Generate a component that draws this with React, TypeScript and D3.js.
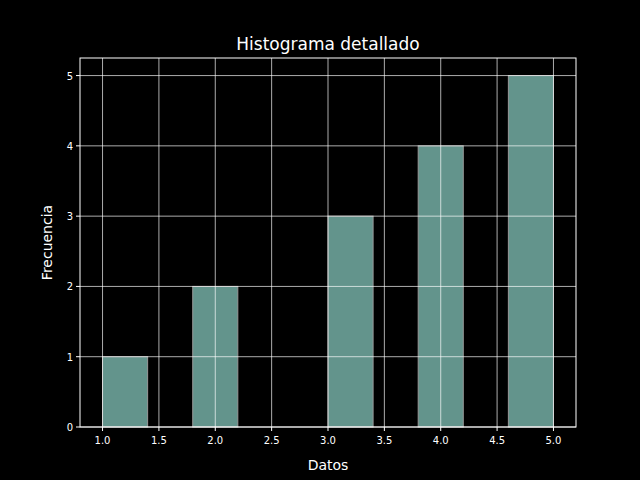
import * as d3 from 'd3';

const binStarts = [1.0, 1.4, 1.8, 2.2, 2.6, 3.0, 3.4, 3.8, 4.2, 4.6];
const binCounts = [1, 0, 2, 0, 0, 3, 0, 4, 0, 5];
const binWidth = 0.4;
const xTicks = [1.0, 1.5, 2.0, 2.5, 3.0, 3.5, 4.0, 4.5, 5.0];
const yTicks = [0, 1, 2, 3, 4, 5];

export default function App() {
  const W = 640, H = 480;
  const left = 80, right = 576, top = 58, bottom = 427;
  const x = d3.scaleLinear().domain([0.8, 5.2]).range([left, right]);
  const y = d3.scaleLinear().domain([0, 5.25]).range([bottom, top]);
  const font = 'DejaVu Sans, sans-serif';
  return (
    <svg width={W} height={H} style={{ position: 'absolute', left: 0, top: 0, background: '#000' }} fontFamily={font}>
      <rect width={W} height={H} fill="#000" />
      {binStarts.map((s, i) => binCounts[i] > 0 && (
        <rect key={i} x={x(s)} y={y(binCounts[i])} width={x(s + binWidth) - x(s)} height={y(0) - y(binCounts[i])}
          fill="#8dd3c7" fillOpacity={0.7} stroke="#999" strokeWidth={1} />
      ))}
      {xTicks.map(t => <line key={'gx' + t} x1={x(t)} x2={x(t)} y1={top} y2={bottom} stroke="#fff" strokeOpacity={0.85} strokeWidth={0.8} />)}
      {yTicks.map(t => <line key={'gy' + t} x1={left} x2={right} y1={y(t)} y2={y(t)} stroke="#fff" strokeOpacity={0.85} strokeWidth={0.8} />)}
      <rect x={left} y={top} width={right - left} height={bottom - top} fill="none" stroke="#fff" strokeWidth={1} />
      {xTicks.map(t => (
        <g key={'tx' + t}>
          <line x1={x(t)} x2={x(t)} y1={bottom} y2={bottom + 4} stroke="#fff" />
          <text x={x(t)} y={bottom + 17} fill="#fff" fontSize={10} textAnchor="middle">{t.toFixed(1)}</text>
        </g>
      ))}
      {yTicks.map(t => (
        <g key={'ty' + t}>
          <line x1={left - 4} x2={left} y1={y(t)} y2={y(t)} stroke="#fff" />
          <text x={left - 7} y={y(t) + 4} fill="#fff" fontSize={10} textAnchor="end">{t}</text>
        </g>
      ))}
      <text x={(left + right) / 2} y={50} fill="#fff" fontSize={17} textAnchor="middle">Histograma detallado</text>
      <text x={(left + right) / 2} y={470} fill="#fff" fontSize={14} textAnchor="middle">Datos</text>
      <text transform={`translate(52,${(top + bottom) / 2}) rotate(-90)`} fill="#fff" fontSize={14} textAnchor="middle">Frecuencia</text>
    </svg>
  );
}
